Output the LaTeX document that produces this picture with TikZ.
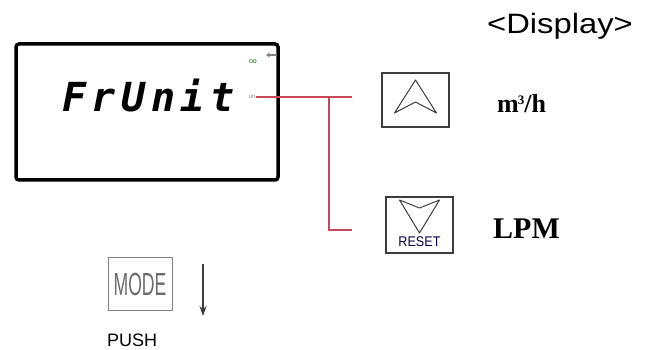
\documentclass[tikz,border=0pt]{standalone}
\usepackage{fontspec}
\setmainfont{Liberation Serif}
\setsansfont{Liberation Sans}
\newfontfamily\segfont[LetterSpace=14]{DejaVu Sans Mono}
\usetikzlibrary{positioning,arrows.meta}
\definecolor{leadred}{RGB}{200,70,90}
\definecolor{keygray}{RGB}{60,60,60}
\newcommand{\upglyph}{\draw[keygray,line width=1pt,line join=round] (0,-20) -- (-21,13) -- (0,2) -- (21,13) -- cycle;}
\newcommand{\downglyph}{\draw[keygray,line width=1pt,line join=round] (-20,-25) -- (0,-17) -- (20,-25) -- (0,8) -- cycle;}
\tikzset{keybox/.style={draw=keygray,line width=1.2pt,inner sep=0pt},
         lead/.style={leadred,line width=1.1pt}}

\begin{document}
\begin{tikzpicture}[x=1pt,y=-1pt]
\useasboundingbox (0,0) rectangle (649,350);

% display panel
\draw[line width=3.5pt,rounded corners=3pt] (16,44) rectangle (278,180);
\node (frunit) [anchor=base west,inner sep=0pt] at (62,112)
  {\segfont\bfseries\itshape\fontsize{40}{40}\selectfont FrUnit};
\node (unitmark) [inner sep=0pt,text=gray] at (252,97) {\sffamily\fontsize{6}{6}\selectfont un};
\node (cyc) [inner sep=0pt,text=green!45!black] at (253,62) {\sffamily\fontsize{7}{7}\selectfont oo};
\draw[gray,line width=1.2pt,-{Stealth[length=4pt,width=5pt]}] (277,55) -- (266,55);

% keys
\node (upkey) [keybox,minimum width=67pt,minimum height=54pt] at (415.5,100) {};
\begin{scope}[shift={(upkey.center)}]
	\upglyph
\end{scope}
\node (resetkey) [keybox,minimum width=67pt,minimum height=56pt] at (419.5,225) {};
\begin{scope}[shift={(resetkey.center)}]
	\downglyph
\end{scope}
\node (resettxt) [inner sep=0pt,text=blue!30!black,anchor=base,xscale=0.9] at (419.5,247)
  {\sffamily\fontsize{14}{14}\selectfont RESET};

\node (cubic) [anchor=base west,inner sep=0pt] at (497,113)
  {\bfseries\fontsize{26}{26}\selectfont m\kern-1pt\raisebox{8pt}{\fontsize{13}{13}\selectfont 3}/h};
\node (lpm) [anchor=base west,inner sep=0pt] at (493,239)
  {\bfseries\fontsize{30}{30}\selectfont LPM};

% lead lines
\coordinate (upend) at (352,97);
\coordinate (branch) at (329,97);
\coordinate (resetend) at (352,230);
\draw[lead] (unitmark.east) -- (upend);
\draw[lead] (branch) |- (resetend);

\node (title) [anchor=base,inner sep=0pt,xscale=1.17] at (560,34)
  {\sffamily\fontsize{28}{28}\selectfont <Display>};

% mode key
\node (modekey) [draw=gray,line width=1pt,minimum width=64pt,minimum height=53pt,inner sep=0pt] at (140,284.5) {};
\node (modetxt) [text=gray!85!black,xscale=0.55,inner sep=0pt] at (modekey.center)
  {\sffamily\fontsize{32}{32}\selectfont MODE};
\node (push) [anchor=base west,inner sep=0pt] at (107,347)
  {\sffamily\fontsize{18}{18}\selectfont PUSH};
\coordinate (pushtop) at (203,264);
\coordinate (pushbot) at (203,316);
\draw[keygray,line width=1.2pt,-{Stealth[length=10pt,width=7pt]}] (pushtop) -- (pushbot);

\end{tikzpicture}
\end{document}
